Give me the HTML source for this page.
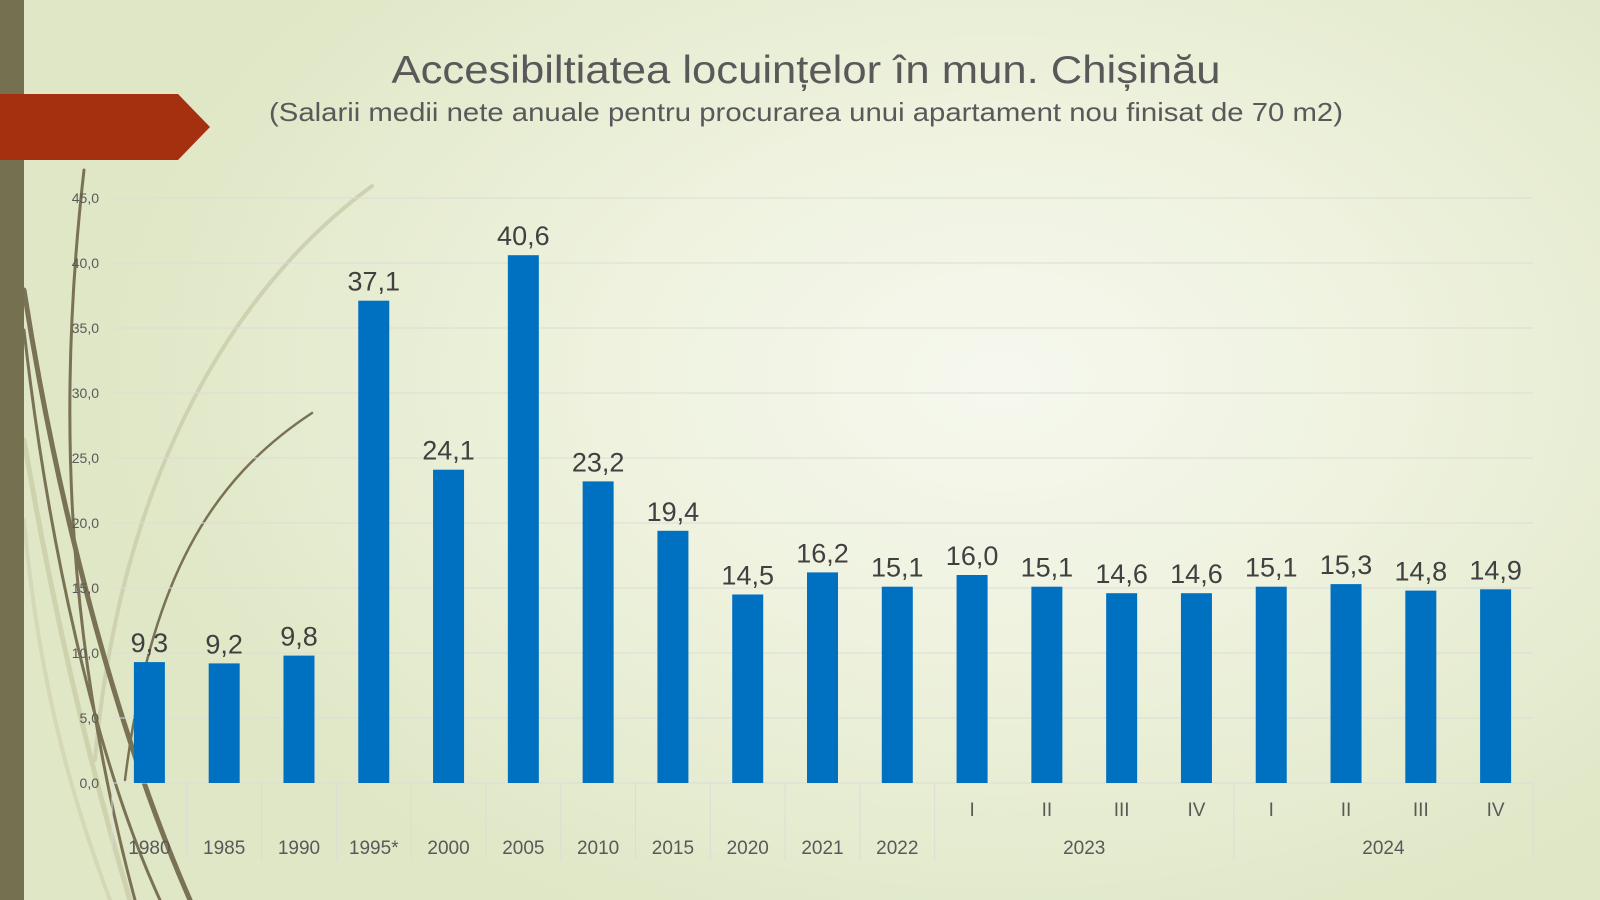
<!DOCTYPE html>
<html><head><meta charset="utf-8"><style>
html,body{margin:0;padding:0}
body{width:1600px;height:900px;overflow:hidden;position:relative;font-family:"Liberation Sans","DejaVu Sans",sans-serif;
background:radial-gradient(ellipse 900px 600px at 1000px 380px,#f6f8ee 0%,#eef2de 45%,#dfe7c6 100%);}
</style></head><body>
<svg width="1600" height="900" style="position:absolute;left:0;top:0">
<g fill="none" stroke-linecap="round">
<path d="M372 186 C230 290 120 480 95 760" stroke="#cfd2b0" stroke-width="4"/>
<path d="M312 413 C210 480 150 580 125 780" stroke="#7a7254" stroke-width="2.5"/>
<path d="M84 170 C60 380 60 620 135 900" stroke="#7a7254" stroke-width="3"/>
<path d="M24 290 C60 520 120 740 190 900" stroke="#7a7254" stroke-width="5"/>
<path d="M24 330 C50 560 100 770 160 900" stroke="#7a7254" stroke-width="3"/>
<path d="M24 440 C60 650 100 800 130 900" stroke="#ced2ad" stroke-width="5"/>
<path d="M24 520 C40 700 80 820 110 900" stroke="#d4d8b6" stroke-width="4"/>
</g>
<rect x="0" y="0" width="24" height="900" fill="#75704f"/>
<polygon points="0,94 178,94 210,127 178,160 0,160" fill="#a5300f"/>
<g stroke="#dcdcd6" stroke-width="1">
<line x1="112" x2="1533" y1="198" y2="198"/><line x1="112" x2="1533" y1="263" y2="263"/>
<line x1="112" x2="1533" y1="328" y2="328"/><line x1="112" x2="1533" y1="393" y2="393"/>
<line x1="112" x2="1533" y1="458" y2="458"/><line x1="112" x2="1533" y1="523" y2="523"/>
<line x1="112" x2="1533" y1="588" y2="588"/><line x1="112" x2="1533" y1="653" y2="653"/>
<line x1="112" x2="1533" y1="718" y2="718"/><line x1="112" x2="1533" y1="783" y2="783"/>
</g>
<g stroke="#dcdcd6" stroke-width="1" id="sep"></g>
<g fill="#0070c0" id="bars"></g>
<g font-size="14" fill="#595959" text-anchor="end">
<text x="99" y="203">45,0</text><text x="99" y="268">40,0</text><text x="99" y="333">35,0</text>
<text x="99" y="398">30,0</text><text x="99" y="463">25,0</text><text x="99" y="528">20,0</text>
<text x="99" y="593">15,0</text><text x="99" y="658">10,0</text><text x="99" y="723">5,0</text><text x="99" y="788">0,0</text>
</g>
<g id="labels" font-size="27" fill="#404040" text-anchor="middle"></g>
<g id="xl" font-size="19" fill="#595959" text-anchor="middle"></g>
<text x="806" y="83" font-size="39" fill="#595959" text-anchor="middle" textLength="829" lengthAdjust="spacingAndGlyphs">Accesibiltiatea locuințelor în mun. Chișinău</text>
<text x="806" y="121" font-size="26" fill="#595959" text-anchor="middle" textLength="1074" lengthAdjust="spacingAndGlyphs">(Salarii medii nete anuale pentru procurarea unui apartament nou finisat de 70 m2)</text>
</svg>
<script>
var v=[9.3,9.2,9.8,37.1,24.1,40.6,23.2,19.4,14.5,16.2,15.1,16.0,15.1,14.6,14.6,15.1,15.3,14.8,14.9];
var yr=["1980","1985","1990","1995*","2000","2005","2010","2015","2020","2021","2022"];
var q=["I","II","III","IV"];
var ns="http://www.w3.org/2000/svg",w=1421/19;
function el(t,a,p,txt){var e=document.createElementNS(ns,t);for(var k in a)e.setAttribute(k,a[k]);if(txt!=null)e.textContent=txt;document.getElementById(p).appendChild(e);}
for(var i=0;i<19;i++){var cx=112+w*(i+0.5),h=v[i]*13;
el("rect",{x:cx-15.5,y:783-h,width:31,height:h},"bars");
el("text",{x:cx,y:783-h-10},"labels",v[i].toFixed(1).replace(".",","));
if(i<11)el("text",{x:cx,y:854},"xl",yr[i]);else el("text",{x:cx,y:816},"xl",q[(i-11)%4]);}
el("text",{x:112+w*13,y:854},"xl","2023");el("text",{x:112+w*17,y:854},"xl","2024");
for(var i=0;i<=19;i++){if(i>11&&i<19&&i!=15)continue;var x=112+w*i;el("line",{x1:x,x2:x,y1:783,y2:860},"sep");}
</script>
</body></html>
